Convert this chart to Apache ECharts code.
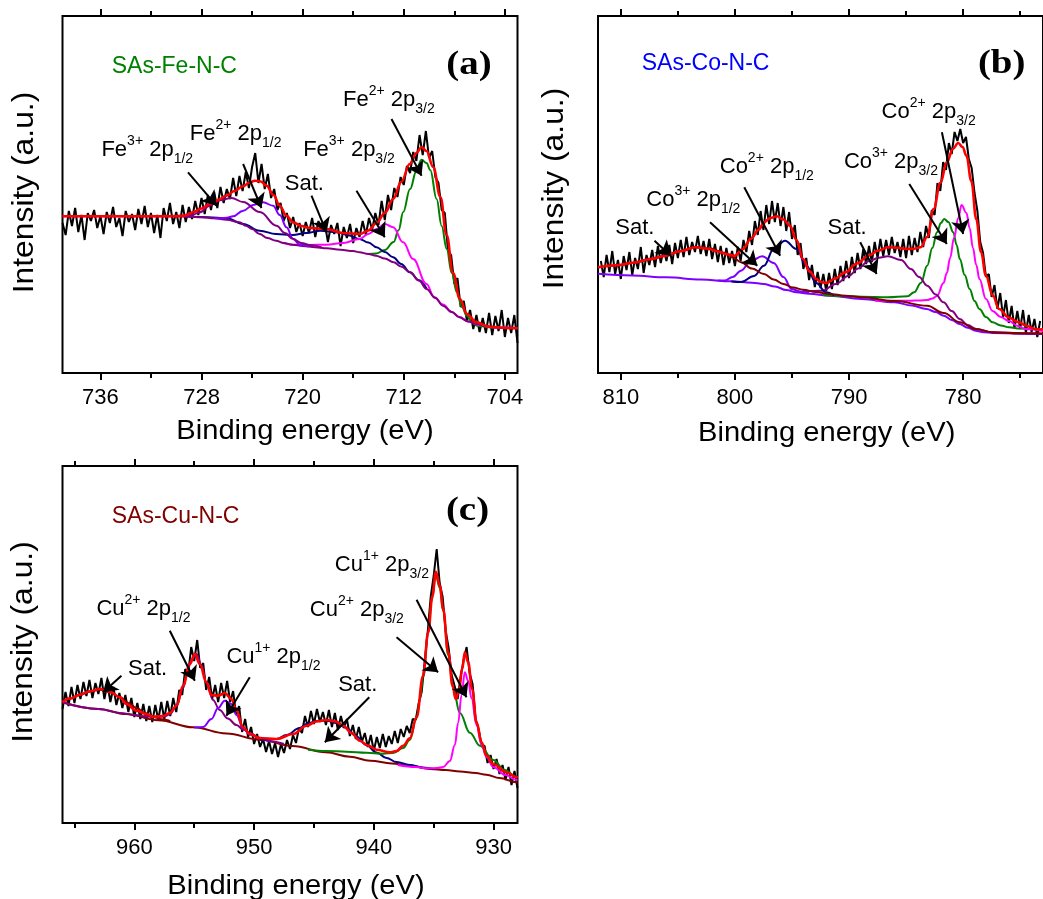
<!DOCTYPE html>
<html>
<head>
<meta charset="utf-8">
<script src="https://cdn.jsdelivr.net/npm/echarts@6.0.0/dist/echarts.min.js"></script>
<style>
  html, body { margin: 0; padding: 0; background: #fff; }
  #chart { width: 1043px; height: 899px; }
</style>
</head>
<body>
<div id="chart"></div>
<script>
// ---------- Fe 2p (panel a) ----------
const feMajorTicks = [704, 712, 720, 728, 736];
const feMinorTicks = [708, 716, 724, 732];
const feEnergyStart = 739, feEnergyStep = 0.25;
const feCounts = [
  150,138,162,147,165,141,158,133,160,152,
  163,145,157,139,161,150,166,146,155,137,
  162,151,159,143,164,149,167,146,160,140,
  158,135,165,152,170,149,161,145,168,151,
  166,154,172,158,175,159,178,163,181,165,
  186,170,184,174,195,177,197,182,201,185,
  206,220,190,209,184,199,175,184,163,170,
  152,160,145,156,141,150,137,151,140,155,
  136,152,143,150,131,148,139,150,127,146,
  135,149,130,145,136,152,138,155,143,160,
  148,172,153,178,163,185,176,196,188,207,
  200,221,212,238,218,242,215,222,196,190,
  163,160,122,118,89,95,66,72,52,63,
  44,58,41,55,40,60,38,57,42,63,
  36,55,40,58,30
];
const feBackground = [[739,156.7],[730,156.7],[729,156.3],[728,155.7],[727,154.7],[726,153.3],[725,150.7],[724.5,147.3],[724,144],[723.4,139],[722.8,135],[722.1,132.3],[721.5,130],[720.8,128.3],[720,127],[719,125.8],[718.1,124.7],[717,123.2],[716,122],[715.5,120.7],[714.8,119],[714.2,117.3],[713.5,114.5],[712.8,110.7],[712.2,106.5],[711.5,100.7],[710.8,92.5],[710.2,84],[709.5,75],[708.9,67.3],[708.2,61],[707.6,55.7],[706.9,51.5],[706.2,49],[705.5,47],[704.9,45.7],[704,45],[703,44.7]];
const feFe2p32 = [[714.8,119],[714.2,119.5],[713.5,123],[712.8,131],[712.4,143],[712.05,160.7],[711.5,184],[711.0,202],[710.6,213.3],[710.2,210],[709.9,203],[709.4,174],[709.0,147],[708.6,124],[708.2,100],[707.8,80.7],[707.4,66],[707.0,57.3],[706.6,51],[706.2,47.3],[705,45.5],[703,44.7]];
const feFe3p32 = [[721.5,130],[720.8,128.3],[719.5,128],[718.1,128.3],[716.8,130],[715.5,134],[714.8,139],[714.15,144],[713.5,149],[712.84,145.7],[712.05,130.7],[711.26,114],[710.2,89],[709.6,76],[708.9,68.5],[708.2,61],[707.6,56],[706.9,51.5],[706.2,48.5],[705,45.7],[703,44.7]];
const feSatellite = [[729.2,156.7],[727.5,155.8],[726,154.7],[724.7,149],[723.4,142.3],[722.1,139],[720.8,138],[719.7,140],[718.6,142.3],[717.3,140.7],[716.3,137.5],[715.5,134],[714.8,130.5],[714.15,125.7],[713.5,121],[712.84,115.7],[712.2,109],[711.52,100.7],[710.8,92.7],[710.2,84.5]];
const feFe3p12 = [[729.2,156.7],[728.7,158.3],[728.14,160.7],[727.35,167.3],[726.56,172.7],[725.63,175],[724.71,171],[723.39,161],[722.07,147.3],[721.4,140],[720.76,134],[720.1,130],[719.43,128],[718.5,125.5]];
const feFe2p12 = [[727,154.7],[726.56,154.7],[726,155.2],[725.5,156.7],[724.71,162.3],[723.92,168],[723.13,170.7],[722.34,167.3],[721.81,158],[721.28,145.7],[720.76,134.3],[720.23,128.3],[719.5,126.5]];
const feEnvelope = [[739,156.7],[730,156.7],[729.3,157.5],[728.67,160.7],[728,164.5],[727.35,169],[726.7,173],[726.03,177.3],[725.4,182],[724.71,186.7],[724.2,190.5],[723.79,192.3],[723.3,191.5],[722.86,187.3],[722.3,178],[721.81,167.3],[721.3,157.5],[720.76,150.7],[720.1,147],[719.43,145],[718.11,144],[716.8,140],[715.48,139],[714.8,142.5],[714.15,150],[713.5,160],[712.84,174],[712.2,191],[711.52,209],[711.0,220],[710.6,225.7],[710.2,222],[709.67,206],[709.1,176],[708.61,138],[708.1,100],[707.56,74],[707.0,59],[706.24,50.7],[705.3,46.5],[704,45],[703,44.7]];
const feNotes = [
  { at: [735.92, 222.7], parts: ['Fe', '3+', '1/2'] },
  { at: [728.93, 239.3], parts: ['Fe', '2+', '1/2'] },
  { at: [721.41, 189.3], parts: ['Sat.'] },
  { at: [719.96, 222.7], parts: ['Fe', '3+', '3/2'] },
  { at: [716.80, 272.7], parts: ['Fe', '2+', '3/2'] }
];
const feArrows = [
  [[729.07, 200.7], [726.82, 167.3]],
  [[724.71, 209.0], [723.26, 165.0]],
  [[719.30, 177.3], [718.11, 140.7]],
  [[715.74, 182.3], [713.50, 135.7]],
  [[712.97, 254.0], [710.59, 197.3]]
];

// ---------- Co 2p (panel b) ----------
const coMajorTicks = [780, 790, 800, 810];
const coMinorTicks = [775, 785, 795, 805];
const coEnergyStart = 811.75, coEnergyStep = 0.25;
const coCounts = [
  112,96,118,101,122,99,113,94,117,103,
  121,98,115,104,126,100,118,108,123,106,
  127,110,124,112,128,109,130,115,133,116,
  136,118,131,121,137,119,132,117,134,114,
  129,111,127,108,125,110,122,107,126,112,
  133,121,142,128,152,138,162,143,168,149,
  172,151,170,147,166,142,161,134,148,118,
  130,104,115,93,108,86,101,85,99,82,
  100,84,104,88,107,92,112,95,116,100,
  120,104,124,109,127,111,131,115,134,117,
  133,118,136,120,131,116,134,115,137,118,
  135,121,141,126,147,135,163,158,190,182,
  211,203,230,219,241,232,244,230,236,214,
  205,180,162,131,120,96,99,76,88,64,
  80,56,73,50,67,45,62,44,63,40,
  58,41,54,36,52
];
const coBackground = [[812,99.2],[809,97.5],[806,95.7],[803,93.5],[800.3,91.7],[798.5,90.3],[797.5,89],[796.5,86.5],[795.5,83],[794.6,80.7],[793.5,79.2],[791.7,77.3],[788.9,74],[786,70.7],[784.5,67.5],[783.2,64],[782.4,61],[781.7,57.3],[781,53],[780.3,49],[779.6,45.3],[778.9,42.3],[778.2,40.8],[777.4,40],[775,39.3],[773,39]];
const coSatHigh = [[812,105.5],[810.4,107.5],[808.92,110],[807.5,113.5],[806.05,117.3],[804.8,121.7],[803.47,125.7],[802.2,124.5],[800.9,120],[800.2,116],[799.47,110.7],[798.5,104.5],[797.46,99],[796.6,93.5],[795.75,89],[794.9,85.5],[794.03,83.3],[792.9,81],[791.74,79],[790.3,77.3],[788.87,75.7],[786,72],[783.15,67.3],[781.7,60],[780.29,50.7],[778.9,44],[777.42,40.7],[775,39.7],[773,39.5]];
const coCo3p12 = [[801.5,92.5],[800.9,92.5],[800.2,96],[799.47,102.3],[798.61,112],[797.61,116.7],[796.6,110],[795.75,96],[795.03,84],[794.3,81.5],[793.5,80]];
const coCo2p12 = [[800.3,91.5],[799.47,91],[798.32,97],[797.46,107.3],[796.6,124],[795.61,132.3],[794.6,124],[793.74,107.3],[792.88,90],[792.02,80.7],[791.3,77.5]];
const coSatLow = [[794.03,82.3],[793.0,82],[792.31,82.3],[791.17,89],[790.02,97.3],[789.2,104.5],[788.31,111.7],[787.4,115.2],[786.59,116.7],[785.44,113],[784.58,104],[783.85,96],[783.15,87.3],[782.4,78.5],[781.72,70.7],[781.0,62],[780.29,54],[779.6,48],[778.85,44],[777.42,40.7],[775,39.7],[773,39.3]];
const coCo3p32 = [[792.3,78],[790.5,77],[788.9,76.3],[786.6,75.7],[784.87,76.7],[784.29,80.7],[783.7,90],[783.15,107.3],[782.7,125],[782.29,140.7],[781.95,150],[781.66,154],[781.3,151],[780.86,140.7],[780.57,128],[780.29,114],[779.86,98],[779.43,84],[779.0,72],[778.57,64],[778.0,56],[777.42,50.7],[776.7,47.5],[775.99,45.7],[775,44.5],[773,43.3]];
const coCo2p32 = [[787.7,72.3],[786,72.3],[784.58,72.3],[783.8,72.5],[783.15,73],[782.7,74.5],[782.29,77],[781.72,90],[781.43,100],[781.14,115],[780.8,135],[780.43,155],[780.14,168],[779.71,160],[779.43,145],[779.14,125],[778.85,108],[778.57,94],[778.0,74],[777.42,62],[776.7,56],[775.99,52],[775.2,47],[774.56,44],[773,42]];
const coEnvelope = [[812,105.7],[810.4,107.8],[808.92,110.3],[807.5,113.7],[806.05,117.3],[804.8,121.8],[803.47,125.7],[802.4,124.2],[801.47,121.5],[800.7,118.7],[800.04,117.3],[799.3,124],[798.61,134],[797.9,143.5],[797.46,150.7],[796.9,155],[796.32,156.7],[795.75,153.5],[795.18,147.3],[794.6,133],[794.03,114],[793.45,101.5],[792.88,94],[792.45,91],[792.02,90],[791.2,94.5],[790.31,100.7],[789.3,109.5],[788.31,117.3],[787.4,122.5],[786.59,125.7],[785.7,125.2],[784.87,124],[784.3,124.3],[783.72,125.7],[783.15,136],[782.58,164],[782.0,190],[781.43,210.7],[780.9,224],[780.43,230],[780.05,226],[779.71,217.3],[779.28,192],[778.85,154],[778.43,121],[778.0,97.3],[777.42,78],[776.85,64],[776.0,55.5],[775.13,50.7],[774.4,47],[773.7,44],[773,43.5]];
const coNotes = [
  { at: [810.49, 145.0], parts: ['Sat.'] },
  { at: [807.77, 172.7], parts: ['Co', '3+', '1/2'] },
  { at: [801.33, 206.0], parts: ['Co', '2+', '1/2'] },
  { at: [791.88, 145.0], parts: ['Sat.'] },
  { at: [790.45, 211.0], parts: ['Co', '3+', '3/2'] },
  { at: [787.15, 261.0], parts: ['Co', '2+', '3/2'] }
];
const coArrows = [
  [[807.05, 132.3], [805.62, 117.3]],
  [[802.18, 150.7], [798.04, 107.3]],
  [[799.18, 185.7], [796.04, 117.3]],
  [[789.02, 130.7], [787.58, 99.0]],
  [[784.72, 189.0], [781.43, 129.0]],
  [[781.86, 240.7], [780.00, 139.0]]
];

// ---------- Cu 2p (panel c) ----------
const cuMajorTicks = [930, 940, 950, 960];
const cuMinorTicks = [935, 945, 955, 965];
const cuEnergyStart = 966, cuEnergyStep = 0.25;
const cuCounts = [
  114,131,117,136,120,138,124,141,127,143,
  125,140,129,145,124,139,121,136,118,130,
  115,128,111,125,106,120,104,119,102,117,
  101,118,103,121,104,122,107,125,111,133,
  128,154,150,176,162,183,155,160,133,146,
  124,138,121,140,125,142,121,132,108,117,
  91,104,86,96,79,89,76,84,71,82,
  69,80,66,79,70,83,74,88,80,95,
  90,107,96,112,99,114,101,111,98,113,
  96,110,93,107,95,104,87,98,84,96,
  81,90,76,88,72,86,75,89,76,87,
  79,92,80,94,86,97,90,104,103,120,
  131,162,191,226,247,274,240,226,192,175,
  148,137,124,146,163,176,150,139,104,94,
  78,77,60,68,54,64,49,58,43,56,
  38,52,35
];
const cuBackground = [[966,120.7],[963,114],[960.7,109],[958,102.8],[955.1,95.7],[952.3,89.5],[949.5,83.3],[946.8,77],[944,70.7],[942,66.3],[940.3,62.3],[938.5,59.5],[937,57.5],[935.3,54],[934,53],[932.8,51.5],[931.5,50],[930.6,48.3],[929.5,45],[928.1,40.7],[928,40.5]];
const cuSatHigh = [[966,120.7],[965.3,124.5],[964.56,128],[963.7,131.5],[962.89,133.3],[962,130.5],[961.22,126],[960.5,120],[959.82,115],[959.1,110],[958.44,106],[957.7,103.8],[957,102]];
const cuCu2p12 = [[966,120.7],[963,114],[961,109.8],[960,108],[959,106.5],[958.4,106],[957.5,106.5],[957.04,108.7],[956.48,117],[955.93,135],[955.65,148],[955.23,163],[954.81,169],[954.4,158],[953.98,140.7],[953.43,123],[952.87,113],[952.2,104.5],[951.47,98],[950.9,93.5],[950.36,90],[949.5,85],[948.5,81.5],[947.5,79]];
const cuCu1p12 = [[955,95.5],[954.26,96],[953.56,104],[953.0,115],[952.45,122.3],[951.89,119],[951.47,108],[950.92,95],[950.36,88.5],[949.5,84.5],[948.8,82]];
const cuSatLow = [[949.52,83.3],[948.13,84],[947.29,88],[946.18,95],[945.62,99],[944.79,102],[943.95,102.3],[943.12,100],[942.28,95],[941.45,86.5],[940.62,78],[939.78,70.5],[938.94,65],[938.1,61],[937.0,58],[935.9,55.5],[935,54]];
const cuCu1p32 = [[945.5,73.3],[943.95,72],[942.28,71.3],[940.62,70.3],[939.23,69.3],[938.38,70],[937.55,75],[937.0,83],[936.43,105],[936.16,123],[935.88,146],[935.46,190],[935.18,222],[934.82,247.3],[934.49,235],[934.21,212],[933.79,168],[933.37,134],[932.81,110],[931.98,90.3],[931.14,77.3],[930.03,63],[929.06,53],[928.08,46],[928,45.5]];
const cuCu2p32 = [[938,58],[936.5,56],[935.5,54.7],[934.7,55],[934.21,56],[933.65,62],[933.23,78],[932.96,100],[932.67,128],[932.40,150.7],[932.12,142],[931.84,124.7],[931.42,98],[931.0,78],[930.59,66],[930.03,56],[929.0,48],[928.08,43],[928,42.8]];
const cuEnvelope = [[966,121],[965.3,124.7],[964.56,128.3],[963.7,131.8],[962.89,134],[962,131],[961.22,125.7],[960.66,119],[959.82,112.3],[958.9,108.5],[958.44,106.3],[957.6,107],[957.04,110],[956.48,117.3],[955.93,137.3],[955.37,159],[954.95,169],[954.54,159],[953.98,140.7],[953.56,128],[953.0,127.3],[952.45,130],[951.89,124],[951.47,112.3],[950.92,95.7],[950.36,89],[949.52,85],[948.13,84],[946.74,89],[945.62,97.3],[944.8,101.5],[943.95,103],[943.2,101.5],[942.56,97.3],[941.87,90],[941.17,82.3],[940.5,77.5],[939.78,73.3],[938.66,70.7],[938.1,72],[937.55,77.3],[936.99,84.7],[936.43,105.7],[935.88,147.3],[935.46,190.7],[935.1,227.3],[934.82,251.3],[934.49,237.3],[934.21,214],[933.79,170.7],[933.42,137.3],[933.17,124],[932.9,130.7],[932.62,154],[932.4,170.7],[932.12,160.7],[931.79,134],[931.42,100.7],[931.0,80.7],[930.59,67.3],[930.03,59],[928.91,50.7],[928.08,45.7],[928,45.3]];
const cuNotes = [
  { at: [960.53, 154.3], parts: ['Sat.'] },
  { at: [963.17, 214.3], parts: ['Cu', '2+', '1/2'] },
  { at: [952.31, 166.0], parts: ['Cu', '1+', '1/2'] },
  { at: [942.98, 137.7], parts: ['Sat.'] },
  { at: [945.35, 212.7], parts: ['Cu', '2+', '3/2'] },
  { at: [943.26, 257.7], parts: ['Cu', '1+', '3/2'] }
];
const cuArrows = [
  [[961.08, 147.3], [962.61, 130.7]],
  [[957.04, 192.3], [954.95, 142.3]],
  [[950.36, 145.7], [952.31, 107.3]],
  [[940.38, 125.7], [944.09, 80.7]],
  [[938.10, 185.7], [934.63, 150.7]],
  [[936.43, 223.3], [932.26, 125.7]]
];

// ---------- colours ----------
const C = {
  raw: '#000000', fit: '#ff0000', green: '#008000', magenta: '#ff00ff',
  navy: '#000080', violet: '#8000ff', purple: '#800080', wine: '#800000'
};

// curves are listed bottom-to-top in drawing order
const panels = [
  {
    range: [703, 739], major: feMajorTicks, minor: feMinorTicks,
    raw: { start: feEnergyStart, step: feEnergyStep, counts: feCounts },
    curves: [
      [feFe2p32, C.green], [feSatellite, C.navy], [feFe3p32, C.magenta],
      [feBackground, C.purple], [feFe2p12, C.violet], [feFe3p12, C.purple]
    ],
    envelope: feEnvelope, notes: feNotes, arrows: feArrows
  },
  {
    range: [773, 812], major: coMajorTicks, minor: coMinorTicks,
    raw: { start: coEnergyStart, step: coEnergyStep, counts: coCounts },
    curves: [
      [coBackground, C.violet], [coCo3p32, C.green], [coCo2p32, C.magenta],
      [coSatLow, C.purple], [coCo3p12, C.violet], [coCo2p12, C.navy], [coSatHigh, C.wine]
    ],
    envelope: coEnvelope, notes: coNotes, arrows: coArrows
  },
  {
    range: [928, 966], major: cuMajorTicks, minor: cuMinorTicks,
    raw: { start: cuEnergyStart, step: cuEnergyStep, counts: cuCounts },
    curves: [
      [cuBackground, C.wine], [cuSatHigh, C.wine], [cuCu2p12, C.purple], [cuCu1p12, C.violet],
      [cuSatLow, C.navy], [cuCu1p32, C.green], [cuCu2p32, C.magenta]
    ],
    envelope: cuEnvelope, notes: cuNotes, arrows: cuArrows
  }
];

const gridBoxes = [
  { left: 62.5, top: 16, width: 455, height: 357 },
  { left: 598, top: 16, width: 454, height: 357 },
  { left: 62.5, top: 466, width: 455, height: 357 }
];

const sans = 'Liberation Sans';

const richStyles = {
  m:   { fontSize: 22, fontFamily: sans, color: '#000', lineHeight: 32, verticalAlign: 'middle' },
  sup: { fontSize: 14, fontFamily: sans, color: '#000', lineHeight: 18, verticalAlign: 'top' },
  sub: { fontSize: 14, fontFamily: sans, color: '#000', lineHeight: 14, verticalAlign: 'bottom' }
};

function noteText(parts) {
  if (parts.length === 1) return '{m|' + parts[0] + '}';
  return '{m|' + parts[0] + '}{sup|' + parts[1] + '}{m| 2p}{sub|' + parts[2] + '}';
}

const grid = gridBoxes.map(b => Object.assign({
  show: true, borderColor: '#000', borderWidth: 2, backgroundColor: 'transparent'
}, b));

const xAxis = [];
const yAxis = [];
panels.forEach((p, gi) => {
  const base = {
    type: 'value', gridIndex: gi, min: p.range[0], max: p.range[1], inverse: true,
    axisLine: { show: false }, splitLine: { show: false }
  };
  ['bottom', 'top'].forEach(pos => {
    xAxis.push(Object.assign({}, base, {
      position: pos,
      axisTick: { show: true, inside: false, length: 7, customValues: p.major,
                  lineStyle: { color: '#000', width: 2 } },
      axisLabel: pos === 'bottom'
        ? { show: true, customValues: p.major, fontFamily: sans, fontSize: 22,
            color: '#000', margin: 14 }
        : { show: false }
    }));
    xAxis.push(Object.assign({}, base, {
      position: pos,
      axisTick: { show: true, inside: false, length: 5, customValues: p.minor,
                  lineStyle: { color: '#000', width: 2 } },
      axisLabel: { show: false }
    }));
  });
  yAxis.push({
    type: 'value', gridIndex: gi, min: 0, max: 357,
    axisLine: { show: false }, axisTick: { show: false },
    axisLabel: { show: false }, splitLine: { show: false }
  });
});

function lineSeries(gi, data, color, width, z, smooth) {
  return {
    type: 'line', xAxisIndex: gi * 4, yAxisIndex: gi, data: data,
    symbol: 'none', showSymbol: false, smooth: smooth, smoothMonotone: smooth ? 'x' : undefined,
    lineStyle: { color: color, width: width }, z: z, silent: true, animation: false
  };
}

const series = [];
panels.forEach((p, gi) => {
  const rawPoints = p.raw.counts.map((c, i) => [p.raw.start - i * p.raw.step, c]);
  series.push(lineSeries(gi, rawPoints, C.raw, 2, 2, false));
  p.curves.forEach((c, k) => series.push(lineSeries(gi, c[0], c[1], 2, 3 + k * 0.01, 0.4)));
  series.push(lineSeries(gi, p.envelope, C.fit, 2.6, 4, 0.4));
  series.push({
    type: 'scatter', xAxisIndex: gi * 4, yAxisIndex: gi, symbolSize: 0, silent: true, z: 10,
    animation: false,
    data: p.notes.map(n => ({ value: n.at, label: { formatter: noteText(n.parts) } })),
    label: { show: true, position: 'right', distance: 0, color: '#000', opacity: 1, rich: richStyles },
    markLine: {
      silent: true, animation: false, symbol: ['none', 'arrow'], symbolSize: 14,
      label: { show: false }, emphasis: { disabled: true },
      lineStyle: { color: '#000', width: 2, type: 'solid', opacity: 1 },
      itemStyle: { color: '#000' },
      data: p.arrows.map(a => [{ coord: a[0] }, { coord: a[1] }])
    }
  });
});

function txt(x, y, text, o) {
  return {
    type: 'text', x: x, y: y, rotation: o.rotation || 0, scaleX: o.scaleX || 1, silent: true, z: 50,
    style: {
      text: text, x: 0, y: 0, fill: o.fill || '#000',
      fontSize: o.size, fontFamily: o.family, fontWeight: o.weight || 'normal',
      align: o.align || 'center', verticalAlign: 'middle',
      textAlign: o.align || 'center', textVerticalAlign: 'middle'
    }
  };
}

const graphic = [
  txt(111.7, 66.5, 'SAs-Fe-N-C', { size: 23, family: sans, fill: '#008000', align: 'left' }),
  txt(641.7, 64, 'SAs-Co-N-C', { size: 23, family: sans, fill: '#0000ff', align: 'left' }),
  txt(111.7, 516.5, 'SAs-Cu-N-C', { size: 23, family: sans, fill: '#800000', align: 'left' }),
  txt(469, 65, '(a)', { size: 33, family: 'Liberation Serif', weight: 'bold', scaleX: 1.18 }),
  txt(1001.7, 64, '(b)', { size: 33, family: 'Liberation Serif', weight: 'bold', scaleX: 1.18 }),
  txt(467.5, 511, '(c)', { size: 33, family: 'Liberation Serif', weight: 'bold', scaleX: 1.18 }),
  txt(305, 431, 'Binding energy (eV)', { size: 28, family: sans, scaleX: 1.04 }),
  txt(826.7, 433, 'Binding energy (eV)', { size: 28, family: sans, scaleX: 1.04 }),
  txt(296, 886, 'Binding energy (eV)', { size: 28, family: sans, scaleX: 1.04 }),
  txt(25, 192.5, 'Intensity (a.u.)', { size: 30, family: sans, rotation: Math.PI / 2, scaleX: 1.06 }),
  txt(555, 188.5, 'Intensity (a.u.)', { size: 30, family: sans, rotation: Math.PI / 2, scaleX: 1.06 }),
  txt(24, 642, 'Intensity (a.u.)', { size: 30, family: sans, rotation: Math.PI / 2, scaleX: 1.06 })
];

const chart = echarts.init(document.getElementById('chart'), null, { renderer: 'canvas' });
chart.setOption({
  backgroundColor: '#ffffff',
  animation: false,
  grid: grid,
  xAxis: xAxis,
  yAxis: yAxis,
  series: series,
  graphic: graphic
});
</script>
</body>
</html>
